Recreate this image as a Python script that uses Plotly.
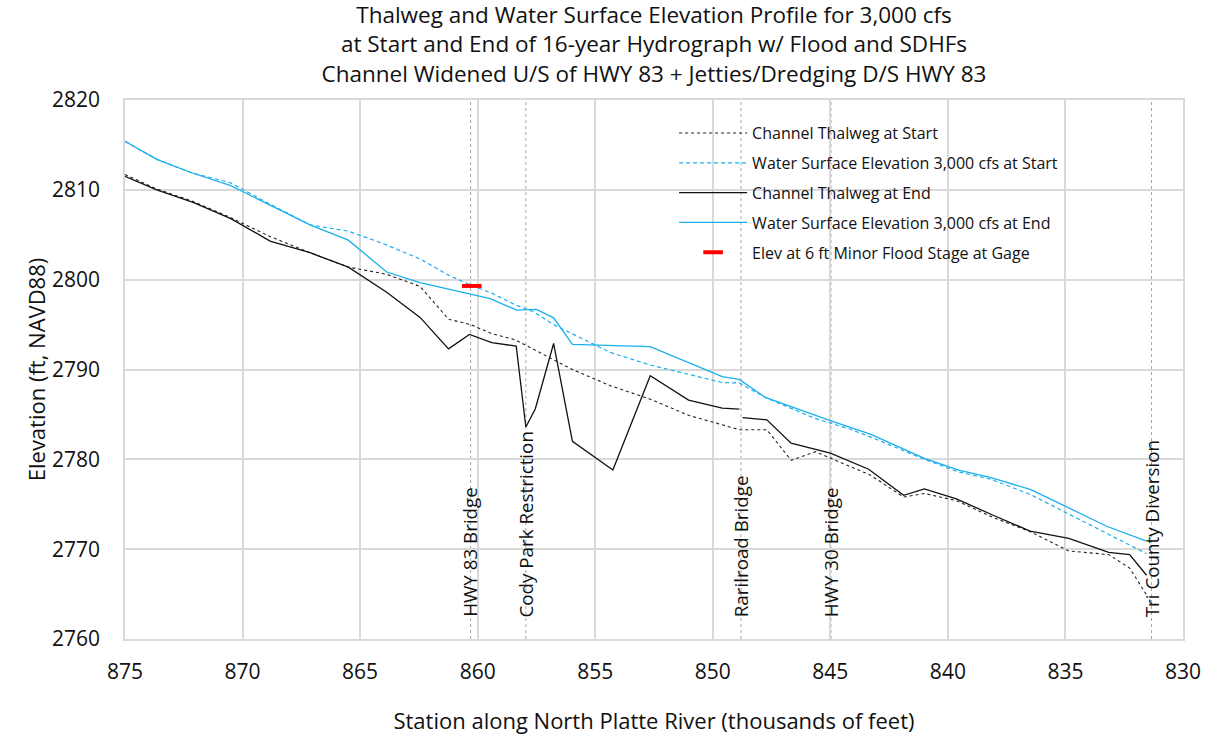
import plotly.graph_objects as go

# ---------------- data ----------------
ts_station = [875.0, 873.65, 872.1, 870.5, 868.83, 867.13, 865.5, 863.87, 862.45, 861.24, 860.3, 859.4,
              858.4, 855.97, 854.36, 852.66, 851.03, 848.87, 847.7, 846.67, 845.64, 844.86, 843.3,
              841.88, 841.0, 839.64, 838.05, 836.5, 834.86, 833.16, 832.27, 831.55]
ts_elev = [2811.7, 2810.1, 2808.7, 2806.9, 2804.8, 2803.0, 2801.4, 2800.6, 2799.25, 2795.6, 2795.0, 2794.0,
           2793.3, 2790.0, 2788.2, 2786.7, 2784.9, 2783.3, 2783.3, 2779.9, 2780.85, 2780.0, 2778.25,
           2775.8, 2776.2, 2775.4, 2773.5, 2771.95, 2769.8, 2769.4, 2767.9, 2764.9]

te_station = [875.0, 873.65, 872.1, 870.5, 868.83, 867.13, 865.5, 863.87, 862.45, 861.24, 860.35, 859.4,
              858.36, 857.95, 857.55, 856.77, 855.97, 854.25, 852.66, 851.03, 849.6, 848.87, None,
              848.73, 847.7, 846.67, 845.0, 843.37, 841.88, 841.0, 839.64, 838.05, 836.5, 834.86,
              833.16, 832.27, 831.55]
te_elev = [2811.5, 2810.0, 2808.6, 2806.8, 2804.3, 2803.0, 2801.4, 2798.6, 2795.8, 2792.3, 2793.9, 2793.0,
           2792.6, 2783.6, 2785.6, 2792.9, 2782.0, 2778.8, 2789.3, 2786.6, 2785.7, 2785.6, None,
           2784.65, 2784.4, 2781.8, 2780.7, 2778.9, 2776.0, 2776.7, 2775.6, 2773.75, 2772.0, 2771.2,
           2769.65, 2769.4, 2767.1]

ws_station = [875.0, 873.65, 872.17, 870.53, 868.83, 867.13, 865.5, 864.0, 862.45, 861.24, 860.3, 859.4,
              858.4, 857.6, 856.77, 855.97, 854.36, 852.66, 851.03, 849.6, 848.87, 847.77, 845.7,
              844.15, 843.3, 841.0, 839.54, 838.2, 836.5, 835.1, 833.25, 831.55]
ws_elev = [2815.4, 2813.4, 2811.9, 2810.8, 2808.4, 2806.1, 2805.4, 2804.0, 2802.3, 2800.5, 2799.4, 2798.5,
           2797.2, 2796.4, 2795.0, 2794.0, 2791.9, 2790.5, 2789.45, 2788.55, 2788.5, 2786.9, 2784.6,
           2783.35, 2782.5, 2780.0, 2778.6, 2777.8, 2776.1, 2774.25, 2771.8, 2769.5]

we_station = [875.0, 873.65, 872.17, 870.53, 868.83, 867.13, 865.5, 863.87, 862.45, 860.3, 859.47, 858.33,
              857.5, 856.77, 855.97, 852.66, 849.6, 848.87, 847.77, 845.0, 843.3, 841.0, 839.54,
              838.2, 836.5, 835.1, 833.25, 831.55]
we_elev = [2815.4, 2813.4, 2811.9, 2810.5, 2808.3, 2806.1, 2804.4, 2800.85, 2799.66, 2798.45, 2797.9, 2796.6,
           2796.7, 2795.75, 2792.8, 2792.55, 2789.2, 2788.9, 2786.9, 2784.3, 2782.8, 2780.1, 2778.8,
           2778.0, 2776.65, 2774.9, 2772.55, 2770.9]

flood_station = [860.25]
flood_elev = [2799.3]

landmark_station = [860.3, 857.95, 848.8, 844.97, 831.34]
landmark_label = ["HWY 83 Bridge", "Cody Park Restriction", "Rarilroad Bridge", "HWY 30 Bridge",
                  "Tri County Diversion"]

x_ticks = [875, 870, 865, 860, 855, 850, 845, 840, 835, 830]
y_ticks = [2760, 2770, 2780, 2790, 2800, 2810, 2820]

title_lines = ["Thalweg and Water Surface Elevation Profile for 3,000 cfs",
               "at Start and End of 16-year Hydrograph w/ Flood and SDHFs",
               "Channel Widened U/S of HWY 83 + Jetties/Dredging D/S HWY 83"]

# ---------------- figure ----------------
FONT = "Open Sans"
TXT = "#111111"
BLUE = "#1ab0ec"
GRID = "#d9d9d9"

fig = go.Figure()
fig.add_trace(go.Scatter(x=ts_station, y=ts_elev, mode="lines", name="Channel Thalweg at Start",
                         line=dict(color="#222222", width=1.1, dash="dot"), legendgroup="a"))
fig.add_trace(go.Scatter(x=ws_station, y=ws_elev, mode="lines",
                         name="Water Surface Elevation 3,000 cfs at Start",
                         line=dict(color=BLUE, width=1.2, dash="4px,3px"), legendgroup="b"))
fig.add_trace(go.Scatter(x=te_station, y=te_elev, mode="lines", name="Channel Thalweg at End",
                         line=dict(color="#111111", width=1.3), connectgaps=False, legendgroup="c"))
fig.add_trace(go.Scatter(x=we_station, y=we_elev, mode="lines",
                         name="Water Surface Elevation 3,000 cfs at End",
                         line=dict(color=BLUE, width=1.3), legendgroup="d"))
fig.add_trace(go.Scatter(x=flood_station, y=flood_elev, mode="markers",
                         name="Elev at 6 ft Minor Flood Stage at Gage",
                         marker=dict(symbol="line-ew-open", size=14, color="red",
                                     line=dict(color="red", width=4)), legendgroup="e"))

for st, lab in zip(landmark_station, landmark_label):
    fig.add_shape(type="line", xref="x", yref="paper", x0=st, x1=st, y0=0, y1=1,
                  line=dict(color="#a6a6a6", width=1, dash="dot"), layer="below")
    fig.add_annotation(x=st, y=2762.2, xref="x", yref="y", text=lab, textangle=-90,
                       showarrow=False, xanchor="center", yanchor="bottom",
                       font=dict(family=FONT, size=18.8, color=TXT))

fig.update_layout(
    width=1211, height=740,
    margin=dict(l=125, r=28, t=100, b=101, autoexpand=False),
    paper_bgcolor="white", plot_bgcolor="white",
    font=dict(family=FONT, size=17, color=TXT),
    title=dict(text="<br>".join(title_lines), x=0.5, xref="paper", xanchor="center",
               y=1 - 23 / 740, yref="container", yanchor="middle",
               font=dict(family=FONT, size=22.5, color=TXT)),
    showlegend=True,
    legend=dict(x=0.519, y=0.970, xanchor="left", yanchor="top", bgcolor="rgba(255,255,255,0)",
                font=dict(family=FONT, size=16, color=TXT), tracegroupgap=6, itemwidth=68),
    xaxis=dict(range=[875, 830], tickvals=x_ticks, showgrid=True, gridcolor=GRID, gridwidth=1.5,
               showline=True, linecolor=GRID, linewidth=1.5, mirror=True, zeroline=False,
               automargin=False,
               ticks="outside", ticklen=13, tickcolor="rgba(0,0,0,0)",
               tickfont=dict(family=FONT, size=21, color=TXT),
               title=dict(text="Station along North Platte River (thousands of feet)",
                          font=dict(family=FONT, size=22, color=TXT), standoff=30)),
    yaxis=dict(range=[2760, 2820], tickvals=y_ticks, showgrid=True, gridcolor=GRID, gridwidth=1.5,
               showline=True, linecolor=GRID, linewidth=1.5, mirror=True, zeroline=False,
               automargin=False,
               ticks="outside", ticklen=19, tickcolor="rgba(0,0,0,0)",
               tickfont=dict(family=FONT, size=21, color=TXT),
               title=dict(text="Elevation (ft, NAVD88)", font=dict(family=FONT, size=22, color=TXT),
                          standoff=0)),
)

fig.write_html("out.html", config={"displayModeBar": False},
               post_script="document.body.style.margin='0px';")
